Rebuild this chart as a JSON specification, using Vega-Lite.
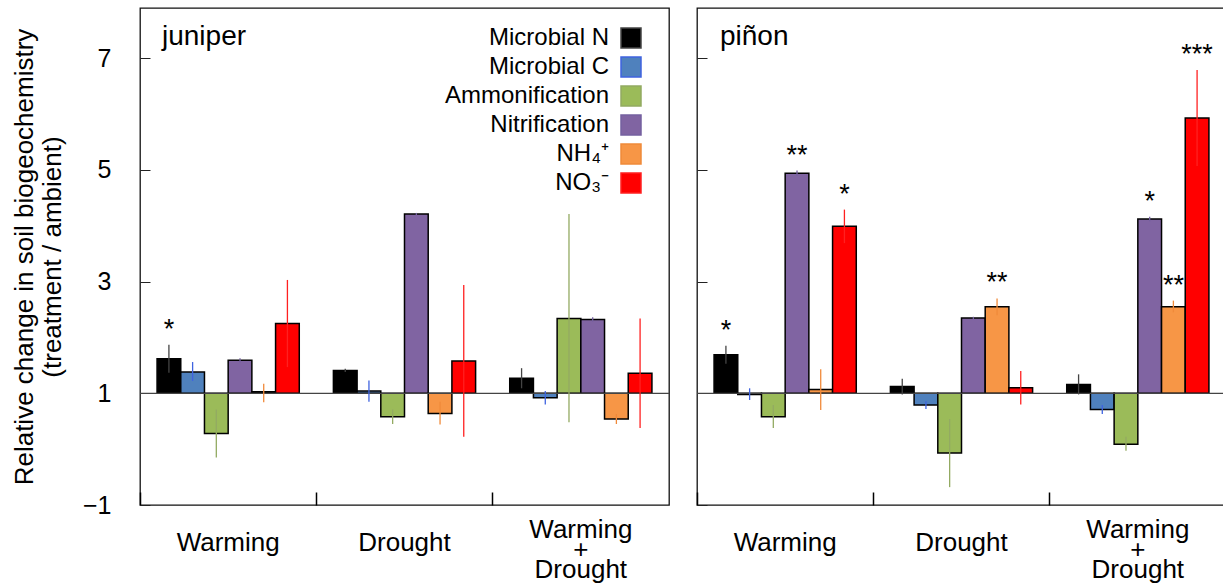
{
  "$schema": "https://vega.github.io/schema/vega-lite/v6.json",
  "padding": {"left": 10, "top": 7, "right": 0, "bottom": 0},
  "autosize": {"type": "pad"},
  "background": "white",
  "config": {
    "font": "Liberation Sans",
    "view": {"stroke": "#111", "strokeWidth": 1.3},
    "concat": {"spacing": 24},
    "axis": {"grid": false, "domain": false, "labelColor": "black", "titleColor": "black", "tickColor": "#222"}
  },
  "data": {
    "values": [
      {"panel": "juniper", "treatment": "Warming", "variable": "Microbial N", "value": 1.62, "lo": 1.37, "hi": 1.87, "sig": "*"},
      {"panel": "juniper", "treatment": "Warming", "variable": "Microbial C", "value": 1.38, "lo": 1.22, "hi": 1.56, "sig": ""},
      {"panel": "juniper", "treatment": "Warming", "variable": "Ammonification", "value": 0.28, "lo": -0.15, "hi": 0.71, "sig": ""},
      {"panel": "juniper", "treatment": "Warming", "variable": "Nitrification", "value": 1.59, "lo": 1.55, "hi": 1.63, "sig": ""},
      {"panel": "juniper", "treatment": "Warming", "variable": "NH₄⁺", "value": 1.03, "lo": 0.84, "hi": 1.17, "sig": ""},
      {"panel": "juniper", "treatment": "Warming", "variable": "NO₃⁻", "value": 2.25, "lo": 1.47, "hi": 3.03, "sig": ""},
      {"panel": "juniper", "treatment": "Drought", "variable": "Microbial N", "value": 1.41, "lo": 1.38, "hi": 1.44, "sig": ""},
      {"panel": "juniper", "treatment": "Drought", "variable": "Microbial C", "value": 1.04, "lo": 0.85, "hi": 1.23, "sig": ""},
      {"panel": "juniper", "treatment": "Drought", "variable": "Ammonification", "value": 0.58, "lo": 0.45, "hi": 0.71, "sig": ""},
      {"panel": "juniper", "treatment": "Drought", "variable": "Nitrification", "value": 4.21, "lo": 4.19, "hi": 4.23, "sig": ""},
      {"panel": "juniper", "treatment": "Drought", "variable": "NH₄⁺", "value": 0.64, "lo": 0.44, "hi": 0.85, "sig": ""},
      {"panel": "juniper", "treatment": "Drought", "variable": "NO₃⁻", "value": 1.58, "lo": 0.22, "hi": 2.94, "sig": ""},
      {"panel": "juniper", "treatment": "Warming + Drought", "variable": "Microbial N", "value": 1.27, "lo": 1.09, "hi": 1.45, "sig": ""},
      {"panel": "juniper", "treatment": "Warming + Drought", "variable": "Microbial C", "value": 0.92, "lo": 0.80, "hi": 1.04, "sig": ""},
      {"panel": "juniper", "treatment": "Warming + Drought", "variable": "Ammonification", "value": 2.34, "lo": 0.48, "hi": 4.21, "sig": ""},
      {"panel": "juniper", "treatment": "Warming + Drought", "variable": "Nitrification", "value": 2.32, "lo": 2.28, "hi": 2.36, "sig": ""},
      {"panel": "juniper", "treatment": "Warming + Drought", "variable": "NH₄⁺", "value": 0.54, "lo": 0.45, "hi": 0.63, "sig": ""},
      {"panel": "juniper", "treatment": "Warming + Drought", "variable": "NO₃⁻", "value": 1.36, "lo": 0.38, "hi": 2.34, "sig": ""},
      {"panel": "piñon", "treatment": "Warming", "variable": "Microbial N", "value": 1.69, "lo": 1.53, "hi": 1.85, "sig": "*"},
      {"panel": "piñon", "treatment": "Warming", "variable": "Microbial C", "value": 0.98, "lo": 0.88, "hi": 1.09, "sig": ""},
      {"panel": "piñon", "treatment": "Warming", "variable": "Ammonification", "value": 0.58, "lo": 0.38, "hi": 0.79, "sig": ""},
      {"panel": "piñon", "treatment": "Warming", "variable": "Nitrification", "value": 4.94, "lo": 4.89, "hi": 4.99, "sig": "**"},
      {"panel": "piñon", "treatment": "Warming", "variable": "NH₄⁺", "value": 1.07, "lo": 0.70, "hi": 1.43, "sig": ""},
      {"panel": "piñon", "treatment": "Warming", "variable": "NO₃⁻", "value": 3.99, "lo": 3.69, "hi": 4.29, "sig": "*"},
      {"panel": "piñon", "treatment": "Drought", "variable": "Microbial N", "value": 1.12, "lo": 0.98, "hi": 1.26, "sig": ""},
      {"panel": "piñon", "treatment": "Drought", "variable": "Microbial C", "value": 0.79, "lo": 0.72, "hi": 0.86, "sig": ""},
      {"panel": "piñon", "treatment": "Drought", "variable": "Ammonification", "value": -0.07, "lo": -0.68, "hi": 0.54, "sig": ""},
      {"panel": "piñon", "treatment": "Drought", "variable": "Nitrification", "value": 2.35, "lo": 2.33, "hi": 2.37, "sig": ""},
      {"panel": "piñon", "treatment": "Drought", "variable": "NH₄⁺", "value": 2.55, "lo": 2.40, "hi": 2.70, "sig": "**"},
      {"panel": "piñon", "treatment": "Drought", "variable": "NO₃⁻", "value": 1.10, "lo": 0.80, "hi": 1.40, "sig": ""},
      {"panel": "piñon", "treatment": "Warming + Drought", "variable": "Microbial N", "value": 1.16, "lo": 0.98, "hi": 1.34, "sig": ""},
      {"panel": "piñon", "treatment": "Warming + Drought", "variable": "Microbial C", "value": 0.71, "lo": 0.63, "hi": 0.79, "sig": ""},
      {"panel": "piñon", "treatment": "Warming + Drought", "variable": "Ammonification", "value": 0.09, "lo": -0.03, "hi": 0.22, "sig": ""},
      {"panel": "piñon", "treatment": "Warming + Drought", "variable": "Nitrification", "value": 4.12, "lo": 4.08, "hi": 4.16, "sig": "*"},
      {"panel": "piñon", "treatment": "Warming + Drought", "variable": "NH₄⁺", "value": 2.55, "lo": 2.45, "hi": 2.66, "sig": "**"},
      {"panel": "piñon", "treatment": "Warming + Drought", "variable": "NO₃⁻", "value": 5.93, "lo": 5.07, "hi": 6.79, "sig": "***"}
    ]
  },
  "hconcat": [
    {
      "width": 529,
      "height": 497,
      "title": {"text": "juniper", "anchor": "start", "frame": "group", "offset": -65, "dx": 22, "fontSize": 28, "fontWeight": "normal", "baseline": "alphabetic", "color": "black"},
      "transform": [{"filter": "datum.panel == 'juniper'"}],
      "encoding": {
        "x": {"field": "treatment", "type": "nominal", "sort": ["Warming", "Drought", "Warming + Drought"], "scale": {"paddingInner": 0, "paddingOuter": 0},
          "axis": {"title": null, "labelAngle": 0, "labelFontSize": 26, "labelLineHeight": 20, "labelPadding": 50, "tickSize": -13, "tickWidth": 1.5, "tickColor": "black", "bandPosition": 0,
            "labelBaseline": {"condition": {"test": "datum.value == 'Warming + Drought'", "value": "bottom"}, "value": "middle"},
            "labelExpr": "datum.label == 'Warming + Drought' ? ['Warming', '+', 'Drought'] : datum.label"}},
        "xOffset": {"field": "variable", "type": "nominal", "sort": ["Microbial N", "Microbial C", "Ammonification", "Nitrification", "NH₄⁺", "NO₃⁻"], "scale": {"paddingInner": 0, "paddingOuter": 0.72}}
      },
      "layer": [
        {
          "mark": {"type": "bar", "stroke": "black", "strokeWidth": 1.5},
          "encoding": {
            "y": {"field": "value", "type": "quantitative", "scale": {"domain": [-1, 7.9], "nice": false, "zero": false},
              "axis": {"title": ["Relative change in soil biogeochemistry", "(treatment / ambient)"], "titleFontSize": 26, "titleFontWeight": "normal", "titleLineHeight": 28, "titlePadding": 17, "values": [-1, 1, 3, 5, 7], "format": "d", "labelFontSize": 25, "tickSize": -10, "labelPadding": 39}},
            "y2": {"datum": 1},
            "color": {"field": "variable", "type": "nominal", "sort": ["Microbial N", "Microbial C", "Ammonification", "Nitrification", "NH₄⁺", "NO₃⁻"],
              "scale": {"domain": ["Microbial N", "Microbial C", "Ammonification", "Nitrification", "NH₄⁺", "NO₃⁻"], "range": ["#000000", "#4f81bd", "#9bbb59", "#8064a2", "#f79646", "#ff0000"]},
              "legend": {"title": null, "orient": "none", "legendX": 479, "legendY": 18, "symbolType": "square", "symbolSize": 400, "symbolStrokeColor": "black", "symbolStrokeWidth": 1.5, "symbolOpacity": 1, "labelFontSize": 24, "labelLimit": 400, "labelColor": "black", "labelAlign": "right", "labelOffset": -34, "rowPadding": 3, "padding": 0}}
          }
        },
        {
          "data": {"values": [{"b": 1}]},
          "mark": {"type": "rule", "color": "#444", "strokeWidth": 1.3},
          "encoding": {"y": {"field": "b", "type": "quantitative"}, "x": null, "xOffset": null}
        },
        {
          "mark": {"type": "rule", "strokeWidth": 1.3},
          "encoding": {
            "y": {"field": "hi", "type": "quantitative"},
            "y2": {"field": "lo"},
            "stroke": {"field": "variable", "type": "nominal", "scale": {"domain": ["Microbial N", "Microbial C", "Ammonification", "Nitrification", "NH₄⁺", "NO₃⁻"], "range": ["#444444", "#3f63e0", "#93aa62", "#7460a0", "#f08a3a", "#ff2020"]}, "legend": null}
          }
        },
        {
          "transform": [{"filter": "datum.sig != ''"}],
          "mark": {"type": "text", "fontSize": 27, "baseline": "alphabetic", "dy": -7, "color": "black"},
          "encoding": {"y": {"field": "hi", "type": "quantitative"}, "text": {"field": "sig"}}
        }
      ]
    },
    {
      "width": 529,
      "height": 497,
      "title": {"text": "piñon", "anchor": "start", "frame": "group", "offset": -65, "dx": 23, "fontSize": 28, "fontWeight": "normal", "baseline": "alphabetic", "color": "black"},
      "transform": [{"filter": "datum.panel == 'piñon'"}],
      "encoding": {
        "x": {"field": "treatment", "type": "nominal", "sort": ["Warming", "Drought", "Warming + Drought"], "scale": {"paddingInner": 0, "paddingOuter": 0},
          "axis": {"title": null, "labelAngle": 0, "labelFontSize": 26, "labelLineHeight": 20, "labelPadding": 50, "tickSize": -13, "tickWidth": 1.5, "tickColor": "black", "bandPosition": 0,
            "labelBaseline": {"condition": {"test": "datum.value == 'Warming + Drought'", "value": "bottom"}, "value": "middle"},
            "labelExpr": "datum.label == 'Warming + Drought' ? ['Warming', '+', 'Drought'] : datum.label"}},
        "xOffset": {"field": "variable", "type": "nominal", "sort": ["Microbial N", "Microbial C", "Ammonification", "Nitrification", "NH₄⁺", "NO₃⁻"], "scale": {"paddingInner": 0, "paddingOuter": 0.72}}
      },
      "layer": [
        {
          "mark": {"type": "bar", "stroke": "black", "strokeWidth": 1.5},
          "encoding": {
            "y": {"field": "value", "type": "quantitative", "scale": {"domain": [-1, 7.9], "nice": false, "zero": false},
              "axis": {"title": null, "values": [-1, 1, 3, 5, 7], "labels": false, "tickSize": -10}},
            "y2": {"datum": 1},
            "color": {"field": "variable", "type": "nominal", "sort": ["Microbial N", "Microbial C", "Ammonification", "Nitrification", "NH₄⁺", "NO₃⁻"],
              "scale": {"domain": ["Microbial N", "Microbial C", "Ammonification", "Nitrification", "NH₄⁺", "NO₃⁻"], "range": ["#000000", "#4f81bd", "#9bbb59", "#8064a2", "#f79646", "#ff0000"]},
              "legend": {"title": null, "orient": "none", "legendX": 479, "legendY": 18, "symbolType": "square", "symbolSize": 400, "symbolStrokeColor": "black", "symbolStrokeWidth": 1.5, "symbolOpacity": 1, "labelFontSize": 24, "labelLimit": 400, "labelColor": "black", "labelAlign": "right", "labelOffset": -34, "rowPadding": 3, "padding": 0}}
          }
        },
        {
          "data": {"values": [{"b": 1}]},
          "mark": {"type": "rule", "color": "#444", "strokeWidth": 1.3},
          "encoding": {"y": {"field": "b", "type": "quantitative"}, "x": null, "xOffset": null}
        },
        {
          "mark": {"type": "rule", "strokeWidth": 1.3},
          "encoding": {
            "y": {"field": "hi", "type": "quantitative"},
            "y2": {"field": "lo"},
            "stroke": {"field": "variable", "type": "nominal", "scale": {"domain": ["Microbial N", "Microbial C", "Ammonification", "Nitrification", "NH₄⁺", "NO₃⁻"], "range": ["#444444", "#3f63e0", "#93aa62", "#7460a0", "#f08a3a", "#ff2020"]}, "legend": null}
          }
        },
        {
          "transform": [{"filter": "datum.sig != ''"}],
          "mark": {"type": "text", "fontSize": 27, "baseline": "alphabetic", "dy": -7, "color": "black"},
          "encoding": {"y": {"field": "hi", "type": "quantitative"}, "text": {"field": "sig"}}
        }
      ]
    }
  ],
  "resolve": {"scale": {"y": "shared", "color": "shared", "stroke": "shared", "x": "independent", "xOffset": "independent"}, "legend": {"color": "shared"}}
}
